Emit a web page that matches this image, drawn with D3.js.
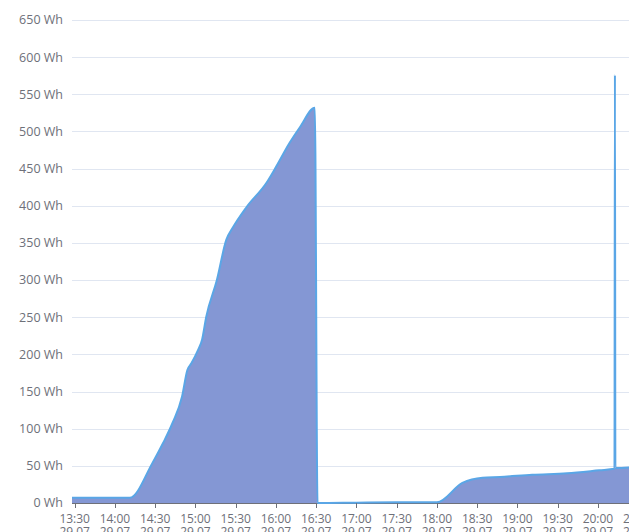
<!DOCTYPE html>
<html>
<head>
<meta charset="utf-8">
<script src="https://cdn.jsdelivr.net/npm/d3@7"></script>
<style>
  html, body { margin: 0; padding: 0; background: #fff; overflow: hidden; }
  svg { display: block; }
  text { font-family: "Open Sans", "Noto Sans", sans-serif; }
</style>
</head>
<body>
<svg id="chart" width="629" height="532"></svg>
<script>
// ---- data ----
const times = ["13:28:00","14:11:00","14:28:00","14:36:00","14:43:00","14:50:00","14:54:00","14:57:00","15:02:00","15:05:00","15:08:00","15:16:00","15:23:00","15:28:00","15:38:00","15:53:00","16:00:00","16:10:00","16:18:00","16:29:00","16:31:00","17:00:00","17:30:00","18:00:00","18:19:00","18:34:00","18:47:00","19:11:00","19:37:00","20:01:00","20:12:20","20:12:40","20:13:00","20:30:00"];
const values = [7,7,54,81,108,143,179,188,206,220,250,300,354,371,398,431,452,484,506,532,0,0.5,1,1,27,34,35,38,40,44,46,576,47,49];
const dateLabel = "29.07";
const yTicks = [0,50,100,150,200,250,300,350,400,450,500,550,600,650];
const xTickTimes = ["13:30:00","14:00:00","14:30:00","15:00:00","15:30:00","16:00:00","16:30:00","17:00:00","17:30:00","18:00:00","18:30:00","19:00:00","19:30:00","20:00:00","20:30:00"];

const parse = d3.timeParse("%Y-%m-%d %H:%M:%S");
const day = "2024-07-29 ";
const data = times.map((t, i) => ({ t: parse(day + t), v: values[i] }));

const svg = d3.select("#chart");
const mLeft = 72, mBottom = 503, mTop = 20;
// x: 30 minutes ≈ 40.25 px, 13:30 at x=75
const t0 = parse(day + "13:28:00");
const tEnd = parse(day + "20:40:00");
const pxPerMin = 40.25 / 30;
const x = d3.scaleTime()
  .domain([t0, tEnd])
  .range([mLeft, mLeft + (tEnd - t0) / 60000 * pxPerMin]);
const y = d3.scaleLinear().domain([0, 650]).range([mBottom, mTop]);

const gridColor = "#e0e6f1";
const labelColor = "#6e7079";

// grid
svg.append("g").selectAll("line").data(yTicks.filter(d => d > 0)).join("line")
  .attr("x1", mLeft).attr("x2", x.range()[1])
  .attr("y1", d => Math.round(y(d)) + 0.5).attr("y2", d => Math.round(y(d)) + 0.5)
  .attr("stroke", gridColor).attr("stroke-width", 1);

// y labels
svg.append("g").selectAll("text").data(yTicks).join("text")
  .attr("x", 63).attr("y", d => y(d))
  .attr("dy", "0.35em")
  .attr("text-anchor", "end")
  .attr("font-size", 12.5)
  .attr("fill", labelColor)
  .text(d => d + " Wh");

// area + line
const area = d3.area().x(d => x(d.t)).y0(y(0)).y1(d => y(d.v)).curve(d3.curveMonotoneX);
const line = d3.line().x(d => x(d.t)).y(d => y(d.v)).curve(d3.curveMonotoneX);

svg.append("path").datum(data).attr("d", area)
  .attr("fill", "#8497d4");

// x axis line
svg.append("line")
  .attr("x1", mLeft).attr("x2", x.range()[1])
  .attr("y1", mBottom + 0.5).attr("y2", mBottom + 0.5)
  .attr("stroke", labelColor).attr("stroke-width", 1);

svg.append("path").datum(data).attr("d", line)
  .attr("fill", "none").attr("stroke", "#5aa6e6").attr("stroke-width", 2)
  .attr("stroke-linejoin", "round");

// x ticks
const xt = xTickTimes.map(s => parse(day + s));
const xg = svg.append("g");
xg.selectAll("line").data(xt).join("line")
  .attr("x1", d => Math.round(x(d)) + 0.5).attr("x2", d => Math.round(x(d)) + 0.5)
  .attr("y1", mBottom).attr("y2", mBottom + 5)
  .attr("stroke", labelColor);
const fmt = d3.timeFormat("%H:%M");
xg.selectAll("text.l1").data(xt).join("text").attr("class", "l1")
  .attr("x", d => x(d)).attr("y", 523)
  .attr("text-anchor", "middle")
  .attr("font-size", 12)
  .attr("fill", labelColor)
  .text(d => fmt(d));
xg.selectAll("text.l2").data(xt).join("text").attr("class", "l2")
  .attr("x", d => x(d)).attr("y", 536)
  .attr("text-anchor", "middle")
  .attr("font-size", 12)
  .attr("fill", labelColor)
  .text(dateLabel);
</script>
</body>
</html>
